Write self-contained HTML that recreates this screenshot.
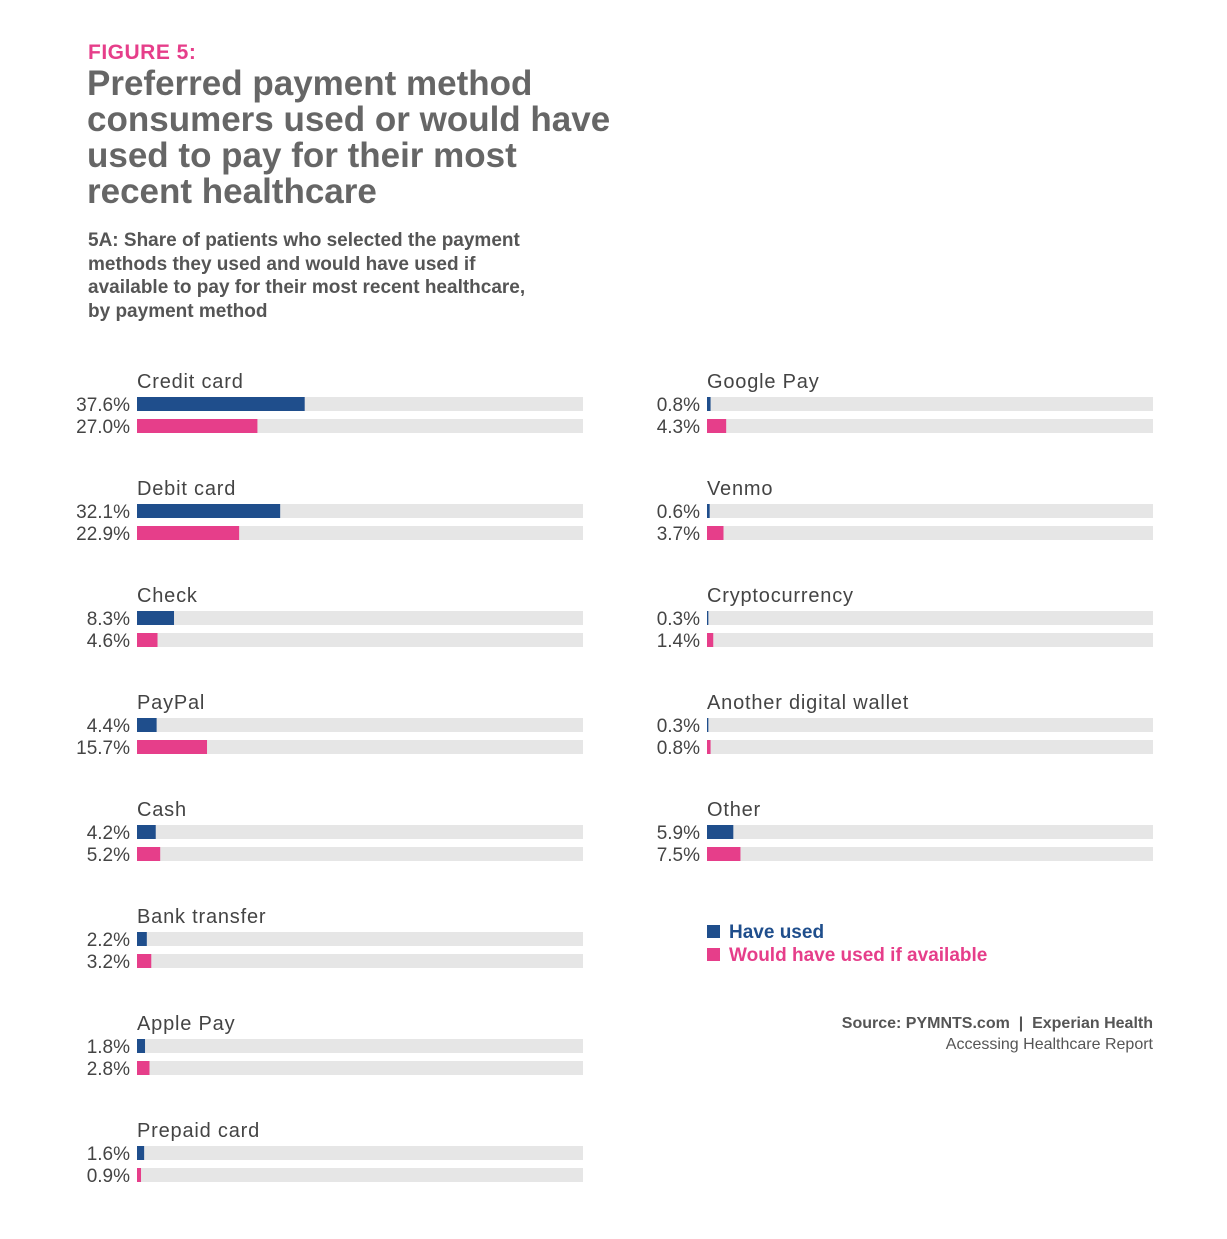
<!DOCTYPE html>
<html><head><meta charset="utf-8"><style>
body{margin:0;background:#fff;width:1227px;height:1239px;position:relative;font-family:"Liberation Sans",sans-serif;overflow:hidden}
.abs{position:absolute}
</style></head><body>
<div class="abs" style="left:88px;top:41px;font-size:21px;font-weight:bold;color:#e63e8a;letter-spacing:0.5px">FIGURE 5:</div>
<div class="abs" style="left:87px;top:66px;white-space:nowrap;font-size:35px;line-height:36px;font-weight:bold;color:#666">Preferred payment method<br>consumers used or would have<br>used to pay for their most<br>recent healthcare</div>
<div class="abs" style="left:88px;top:229px;white-space:nowrap;font-size:19px;line-height:23.5px;font-weight:bold;color:#555">5A: Share of patients who selected the payment<br>methods they used and would have used if<br>available to pay for their most recent healthcare,<br>by payment method</div>
<svg class="abs" style="left:0;top:0" width="1227" height="1239" id="chart"></svg>
<div class="abs" style="left:707px;top:921px;font-size:19px;font-weight:bold;line-height:23px">
<div style="color:#1f4e8c"><span style="display:inline-block;width:13px;height:13px;background:#1f4e8c;margin-right:9px"></span>Have used</div>
<div style="color:#e63e8a"><span style="display:inline-block;width:13px;height:13px;background:#e63e8a;margin-right:9px"></span>Would have used if available</div>
</div>
<div class="abs" style="right:74px;top:1013px;text-align:right;font-size:16px;line-height:21px;color:#555"><b>Source: PYMNTS.com &nbsp;|&nbsp; Experian Health</b><br>Accessing Healthcare Report</div>
<script>
const categories=["Credit card","Debit card","Check","PayPal","Cash","Bank transfer","Apple Pay","Prepaid card","Google Pay","Venmo","Cryptocurrency","Another digital wallet","Other"];
const haveUsed=[37.6,32.1,8.3,4.4,4.2,2.2,1.8,1.6,0.8,0.6,0.3,0.3,5.9];
const wouldUse=[27.0,22.9,4.6,15.7,5.2,3.2,2.8,0.9,4.3,3.7,1.4,0.8,7.5];
const svg=document.getElementById('chart');
const NS='http://www.w3.org/2000/svg';
const trackW=446;
function xs(v){return v/100*trackW;}
function el(t,a){const e=document.createElementNS(NS,t);for(const k in a)e.setAttribute(k,a[k]);svg.appendChild(e);return e;}
categories.forEach((c,i)=>{
  const col=i<8?0:1, row=i<8?i:i-8;
  const x0=col?707:137, y0=381+row*107;
  const t=el('text',{x:x0,y:y0+7,'font-size':20,fill:'#444','letter-spacing':'0.8'});t.textContent=c;
  
  
  [[haveUsed[i],'#1f4e8c',16],[wouldUse[i],'#e63e8a',38]].forEach(([v,clr,dy])=>{
    const tr=el('rect',{x:x0,y:y0+dy,width:trackW,height:14,fill:'#e6e6e6'});
    
    
    const b=el('rect',{x:x0,y:y0+dy,width:xs(v),height:14,fill:clr});
    
    
    const l=el('text',{x:x0-7,y:y0+dy+14,'font-size':19,fill:'#444','text-anchor':'end'});l.textContent=v.toFixed(1)+'%';
    
    
  });
});
</script>
</body></html>
